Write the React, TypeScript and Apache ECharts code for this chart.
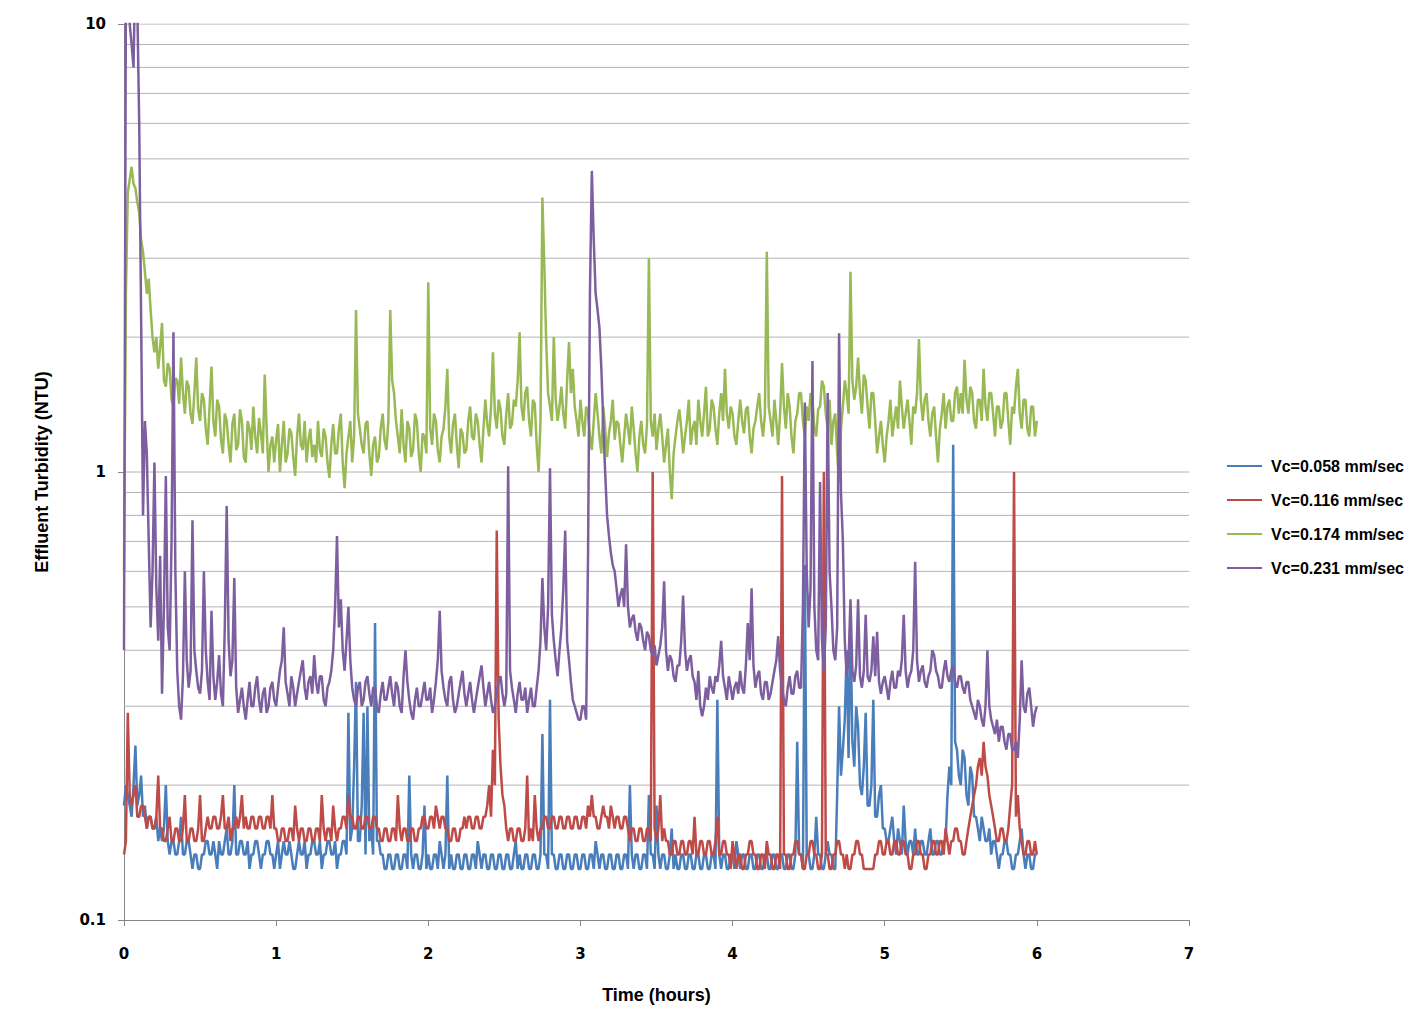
import * as echarts from 'echarts';
import { useEffect, useRef } from 'react';

// logger sampled every 45 s (0.0125 h), 0 .. 6 h
const TIME_STEP_H = 0.0125;

const SERIES_NAMES = [
  'Vc=0.058 mm/sec',
  'Vc=0.116 mm/sec',
  'Vc=0.174 mm/sec',
  'Vc=0.231 mm/sec',
];
const SERIES_COLORS = ['#4a7ebb', '#be4b48', '#98b954', '#7d5fa0'];

const X_TICKS = [0, 1, 2, 3, 4, 5, 6, 7];
// horizontal grid levels (log decades with their 2..9 sub-lines)
const GRID_LEVELS = [
  0.2, 0.3, 0.4, 0.5, 0.6, 0.7, 0.8, 0.9, 1,
  2, 3, 4, 5, 6, 7, 8, 9, 10,
];

// one row = 0.25 h
const VC_058 = [
  0.18, 0.2, 0.19, 0.18, 0.17, 0.2, 0.245, 0.18, 0.19, 0.21, 0.17, 0.18, 0.16, 0.17, 0.17, 0.16, 0.16, 0.17, 0.15, 0.16,
  0.15, 0.16, 0.2, 0.15, 0.14, 0.15, 0.15, 0.14, 0.14, 0.15, 0.17, 0.14, 0.14, 0.15, 0.15, 0.14, 0.13, 0.14, 0.14, 0.13,
  0.13, 0.14, 0.14, 0.15, 0.15, 0.14, 0.14, 0.15, 0.14, 0.13, 0.15, 0.14, 0.14, 0.15, 0.16, 0.14, 0.14, 0.15, 0.2, 0.14,
  0.14, 0.15, 0.15, 0.14, 0.14, 0.15, 0.13, 0.14, 0.14, 0.15, 0.15, 0.14, 0.13, 0.14, 0.14, 0.15, 0.15, 0.14, 0.14, 0.13,
  0.14, 0.15, 0.13, 0.14, 0.15, 0.14, 0.14, 0.15, 0.14, 0.13, 0.13, 0.14, 0.15, 0.14, 0.14, 0.15, 0.13, 0.14, 0.14, 0.15,
  0.15, 0.14, 0.14, 0.15, 0.13, 0.14, 0.14, 0.15, 0.15, 0.14, 0.14, 0.15, 0.13, 0.14, 0.14, 0.15, 0.15, 0.14, 0.29, 0.15,
  0.16, 0.22, 0.34, 0.15, 0.15, 0.18, 0.29, 0.14, 0.3, 0.15, 0.16, 0.14, 0.46, 0.15, 0.15, 0.14, 0.14, 0.13, 0.13, 0.14,
  0.14, 0.13, 0.13, 0.14, 0.14, 0.13, 0.13, 0.14, 0.14, 0.13, 0.21, 0.14, 0.13, 0.14, 0.14, 0.13, 0.13, 0.14, 0.18, 0.13,
  0.14, 0.13, 0.13, 0.14, 0.14, 0.13, 0.15, 0.14, 0.13, 0.14, 0.21, 0.13, 0.14, 0.13, 0.13, 0.14, 0.14, 0.13, 0.13, 0.14,
  0.14, 0.13, 0.13, 0.14, 0.14, 0.13, 0.15, 0.14, 0.13, 0.14, 0.14, 0.13, 0.13, 0.14, 0.14, 0.13, 0.13, 0.14, 0.14, 0.13,
  0.13, 0.14, 0.14, 0.13, 0.13, 0.14, 0.15, 0.13, 0.14, 0.13, 0.13, 0.14, 0.14, 0.13, 0.13, 0.14, 0.14, 0.13, 0.13, 0.14,
  0.26, 0.14, 0.14, 0.13, 0.31, 0.14, 0.14, 0.13, 0.13, 0.14, 0.14, 0.13, 0.13, 0.14, 0.14, 0.13, 0.13, 0.14, 0.14, 0.13,
  0.13, 0.14, 0.14, 0.13, 0.13, 0.14, 0.14, 0.13, 0.15, 0.14, 0.13, 0.14, 0.14, 0.13, 0.13, 0.14, 0.14, 0.13, 0.13, 0.14,
  0.14, 0.13, 0.13, 0.14, 0.14, 0.13, 0.2, 0.14, 0.13, 0.14, 0.14, 0.13, 0.13, 0.14, 0.14, 0.13, 0.19, 0.14, 0.14, 0.13,
  0.18, 0.14, 0.13, 0.14, 0.14, 0.13, 0.13, 0.14, 0.16, 0.13, 0.14, 0.13, 0.13, 0.14, 0.14, 0.13, 0.13, 0.14, 0.14, 0.13,
  0.13, 0.14, 0.14, 0.13, 0.13, 0.14, 0.14, 0.13, 0.13, 0.14, 0.14, 0.13, 0.31, 0.14, 0.13, 0.14, 0.14, 0.13, 0.13, 0.14,
  0.14, 0.13, 0.15, 0.14, 0.13, 0.14, 0.14, 0.13, 0.13, 0.14, 0.14, 0.13, 0.13, 0.14, 0.14, 0.13, 0.13, 0.14, 0.14, 0.13,
  0.13, 0.14, 0.14, 0.13, 0.13, 0.14, 0.14, 0.13, 0.13, 0.14, 0.14, 0.13, 0.13, 0.14, 0.25, 0.14, 0.14, 0.13, 0.62, 0.14,
  0.14, 0.13, 0.13, 0.14, 0.17, 0.14, 0.14, 0.13, 0.13, 0.14, 0.15, 0.14, 0.14, 0.13, 0.13, 0.19, 0.3, 0.21, 0.24, 0.28,
  0.4, 0.23, 0.46, 0.25, 0.22, 0.3, 0.27, 0.2, 0.19, 0.22, 0.29, 0.18, 0.18, 0.2, 0.31, 0.17, 0.17, 0.19, 0.2, 0.16,
  0.16, 0.15, 0.15, 0.16, 0.17, 0.15, 0.14, 0.16, 0.15, 0.14, 0.18, 0.15, 0.14, 0.15, 0.15, 0.14, 0.16, 0.14, 0.14, 0.15,
  0.15, 0.14, 0.14, 0.15, 0.16, 0.14, 0.14, 0.15, 0.15, 0.14, 0.14, 0.15, 0.15, 0.19, 0.22, 0.2, 1.15, 0.25, 0.24, 0.21,
  0.2, 0.24, 0.23, 0.19, 0.18, 0.22, 0.21, 0.17, 0.17, 0.16, 0.15, 0.17, 0.16, 0.15, 0.15, 0.16, 0.14, 0.15, 0.15, 0.14,
  0.13, 0.14, 0.14, 0.15, 0.15, 0.14, 0.14, 0.13, 0.13, 0.14, 0.14, 0.15, 0.16, 0.14, 0.13, 0.14, 0.14, 0.13, 0.13, 0.14,
  0.14,
];

const VC_116 = [
  0.14, 0.15, 0.29, 0.19, 0.18, 0.19, 0.2, 0.17, 0.17, 0.18, 0.18, 0.17, 0.16, 0.17, 0.17, 0.16, 0.16, 0.17, 0.21, 0.16,
  0.16, 0.15, 0.15, 0.16, 0.17, 0.15, 0.15, 0.16, 0.16, 0.15, 0.15, 0.16, 0.19, 0.15, 0.15, 0.16, 0.16, 0.15, 0.15, 0.16,
  0.19, 0.15, 0.15, 0.16, 0.17, 0.16, 0.16, 0.17, 0.17, 0.16, 0.16, 0.17, 0.19, 0.16, 0.16, 0.17, 0.15, 0.16, 0.16, 0.17,
  0.16, 0.17, 0.19, 0.16, 0.17, 0.16, 0.16, 0.17, 0.17, 0.16, 0.16, 0.17, 0.17, 0.16, 0.16, 0.17, 0.17, 0.16, 0.19, 0.16,
  0.16, 0.15, 0.15, 0.16, 0.16, 0.15, 0.15, 0.16, 0.16, 0.15, 0.18, 0.16, 0.15, 0.16, 0.16, 0.15, 0.15, 0.16, 0.16, 0.15,
  0.15, 0.16, 0.16, 0.15, 0.19, 0.16, 0.15, 0.16, 0.16, 0.15, 0.18, 0.16, 0.15, 0.16, 0.16, 0.17, 0.17, 0.16, 0.19, 0.17,
  0.17, 0.16, 0.16, 0.17, 0.17, 0.16, 0.16, 0.17, 0.17, 0.16, 0.16, 0.17, 0.17, 0.16, 0.16, 0.15, 0.15, 0.16, 0.16, 0.15,
  0.15, 0.16, 0.16, 0.15, 0.19, 0.16, 0.15, 0.16, 0.16, 0.15, 0.15, 0.16, 0.16, 0.15, 0.15, 0.16, 0.16, 0.17, 0.17, 0.16,
  0.16, 0.17, 0.17, 0.16, 0.18, 0.17, 0.16, 0.17, 0.17, 0.16, 0.16, 0.15, 0.15, 0.16, 0.16, 0.15, 0.15, 0.16, 0.16, 0.17,
  0.16, 0.17, 0.17, 0.16, 0.16, 0.17, 0.17, 0.16, 0.16, 0.17, 0.17, 0.18, 0.2, 0.17, 0.24, 0.2, 0.74, 0.28, 0.22, 0.19,
  0.18, 0.16, 0.15, 0.16, 0.16, 0.15, 0.15, 0.16, 0.16, 0.15, 0.15, 0.16, 0.21, 0.15, 0.16, 0.15, 0.19, 0.16, 0.15, 0.16,
  0.16, 0.17, 0.17, 0.16, 0.16, 0.17, 0.17, 0.16, 0.16, 0.17, 0.17, 0.16, 0.16, 0.17, 0.17, 0.16, 0.16, 0.17, 0.17, 0.16,
  0.16, 0.17, 0.17, 0.16, 0.18, 0.17, 0.19, 0.17, 0.17, 0.16, 0.16, 0.17, 0.18, 0.17, 0.17, 0.16, 0.18, 0.17, 0.16, 0.17,
  0.17, 0.16, 0.16, 0.17, 0.17, 0.16, 0.15, 0.16, 0.16, 0.15, 0.15, 0.16, 0.16, 0.15, 0.15, 0.16, 0.16, 0.15, 1.0, 0.16,
  0.15, 0.16, 0.19, 0.15, 0.16, 0.15, 0.15, 0.14, 0.14, 0.15, 0.15, 0.14, 0.14, 0.15, 0.15, 0.14, 0.14, 0.15, 0.15, 0.14,
  0.17, 0.14, 0.14, 0.15, 0.15, 0.14, 0.14, 0.15, 0.15, 0.14, 0.14, 0.15, 0.17, 0.14, 0.14, 0.15, 0.15, 0.14, 0.14, 0.13,
  0.15, 0.14, 0.13, 0.14, 0.14, 0.13, 0.13, 0.14, 0.14, 0.15, 0.15, 0.14, 0.14, 0.13, 0.13, 0.14, 0.14, 0.13, 0.15, 0.14,
  0.14, 0.13, 0.13, 0.14, 0.14, 0.13, 0.98, 0.14, 0.14, 0.13, 0.13, 0.14, 0.14, 0.15, 0.15, 0.14, 0.14, 0.13, 0.13, 0.14,
  0.14, 0.15, 0.15, 0.14, 0.14, 0.13, 0.13, 0.14, 1.0, 0.14, 0.14, 0.13, 0.13, 0.14, 0.14, 0.15, 0.15, 0.14, 0.14, 0.13,
  0.14, 0.13, 0.13, 0.14, 0.14, 0.15, 0.15, 0.14, 0.14, 0.13, 0.13, 0.13, 0.13, 0.13, 0.13, 0.14, 0.14, 0.15, 0.15, 0.14,
  0.14, 0.15, 0.15, 0.14, 0.14, 0.15, 0.15, 0.14, 0.14, 0.15, 0.15, 0.14, 0.14, 0.13, 0.13, 0.14, 0.14, 0.15, 0.15, 0.14,
  0.14, 0.13, 0.13, 0.14, 0.14, 0.15, 0.15, 0.14, 0.14, 0.15, 0.15, 0.14, 0.16, 0.15, 0.14, 0.15, 0.15, 0.16, 0.16, 0.15,
  0.15, 0.14, 0.14, 0.15, 0.16, 0.17, 0.18, 0.19, 0.2, 0.22, 0.23, 0.21, 0.25, 0.22, 0.21, 0.19, 0.18, 0.17, 0.16, 0.15,
  0.15, 0.16, 0.16, 0.15, 0.15, 0.16, 0.18, 0.2, 1.0, 0.17, 0.19, 0.16, 0.15, 0.14, 0.14, 0.15, 0.15, 0.14, 0.14, 0.15,
  0.14,
];

const VC_174 = [
  0.6, 2.5, 4.2, 4.5, 4.8, 4.4, 4.3, 4.0, 3.8, 3.3, 3.1, 2.8, 2.5, 2.7, 2.3, 2.0, 1.85, 2.0, 1.7, 1.9,
  2.15, 1.6, 1.55, 1.75, 1.7, 1.45, 1.4, 1.62, 1.6, 1.42, 1.8, 1.5, 1.35, 1.6, 1.55, 1.35, 1.28, 1.5, 1.8, 1.38,
  1.3, 1.5, 1.45, 1.25, 1.15, 1.4, 1.72, 1.3, 1.2, 1.45, 1.4, 1.18, 1.1, 1.35, 1.3, 1.15, 1.05, 1.28, 1.35, 1.12,
  1.15, 1.38, 1.3, 1.08, 1.05, 1.3, 1.25, 1.12, 1.4, 1.2, 1.1, 1.32, 1.22, 1.1, 1.65, 1.25, 1.0, 1.15, 1.2, 1.05,
  1.18, 1.28, 1.0, 1.15, 1.3, 1.05, 1.1, 1.25, 1.22, 1.08, 0.98, 1.2, 1.35, 1.15, 1.12, 1.3, 1.05, 1.18, 1.25, 1.08,
  1.15, 1.05, 1.3, 1.12, 1.08, 1.25, 1.2, 1.05, 0.97, 1.15, 1.28, 1.1, 1.1, 1.25, 1.35, 1.05, 0.92, 1.1, 1.2, 1.3,
  1.05, 1.2, 2.3, 1.35, 1.25, 1.15, 1.1, 1.28, 1.3, 1.1, 0.98, 1.15, 1.2, 1.05, 1.08, 1.25, 1.35, 1.18, 1.12, 1.3,
  2.3, 1.6, 1.5, 1.3, 1.2, 1.1, 1.38, 1.15, 1.05, 1.3, 1.25, 1.08, 1.12, 1.35, 1.3, 1.1, 1.0, 1.22, 1.2, 1.1,
  2.65, 1.25, 1.15, 1.35, 1.3, 1.12, 1.05, 1.2, 1.25, 1.4, 1.7, 1.2, 1.1, 1.28, 1.35, 1.15, 1.02, 1.25, 1.22, 1.1,
  1.12, 1.3, 1.4, 1.2, 1.18, 1.35, 1.3, 1.15, 1.05, 1.25, 1.45, 1.28, 1.2, 1.4, 1.85, 1.35, 1.25, 1.45, 1.38, 1.2,
  1.15, 1.35, 1.5, 1.25, 1.28, 1.45, 1.4, 1.6, 2.05, 1.4, 1.3, 1.5, 1.55, 1.3, 1.2, 1.45, 1.42, 1.15, 1.0, 1.3,
  4.1, 2.9, 1.95, 1.5, 1.4, 1.3, 2.0, 1.45, 1.3, 1.4, 1.55, 1.35, 1.25, 1.6, 1.95, 1.5, 1.7, 1.4, 1.3, 1.2,
  1.45, 1.3, 1.2, 1.4, 1.35, 1.2, 1.12, 1.3, 1.5, 1.35, 1.2, 1.1, 1.4, 1.25, 1.08, 1.22, 1.3, 1.45, 1.18, 1.3,
  1.28, 1.15, 1.05, 1.2, 1.35, 1.25, 1.15, 1.4, 1.25, 1.1, 1.0, 1.2, 1.3, 1.15, 1.1, 1.28, 3.0, 1.3, 1.2, 1.35,
  1.12, 1.25, 1.35, 1.2, 1.05, 1.15, 1.25, 1.0, 0.87, 1.1, 1.2, 1.3, 1.38, 1.25, 1.1, 1.2, 1.3, 1.45, 1.15, 1.25,
  1.3, 1.15, 1.45, 1.3, 1.2, 1.35, 1.55, 1.2, 1.25, 1.45, 1.4, 1.25, 1.15, 1.35, 1.5, 1.3, 1.7, 1.35, 1.25, 1.4,
  1.35, 1.2, 1.15, 1.3, 1.45, 1.3, 1.22, 1.38, 1.4, 1.2, 1.1, 1.25, 1.3, 1.4, 1.5, 1.3, 1.2, 1.35, 3.1, 1.4,
  1.3, 1.2, 1.45, 1.3, 1.15, 1.35, 1.75, 1.4, 1.25, 1.5, 1.4, 1.2, 1.1, 1.3, 1.35, 1.5, 1.5, 1.3, 1.2, 1.4,
  1.3, 1.5, 1.45, 1.25, 1.2, 1.38, 1.4, 1.6, 1.55, 1.35, 1.25, 1.45, 1.15, 1.3, 1.35, 1.1, 0.95, 1.25, 1.4, 1.6,
  1.5, 1.35, 2.8, 1.6, 1.45, 1.55, 1.8, 1.5, 1.35, 1.65, 1.6, 1.4, 1.25, 1.5, 1.5, 1.3, 1.1, 1.2, 1.3, 1.15,
  1.05, 1.2, 1.3, 1.45, 1.2, 1.3, 1.4, 1.25, 1.6, 1.4, 1.25, 1.35, 1.45, 1.3, 1.15, 1.4, 1.35, 1.5, 1.98, 1.45,
  1.3, 1.45, 1.5, 1.3, 1.2, 1.35, 1.4, 1.2, 1.05, 1.25, 1.35, 1.5, 1.25, 1.4, 1.45, 1.3, 1.3, 1.5, 1.55, 1.35,
  1.5, 1.35, 1.78, 1.45, 1.35, 1.55, 1.5, 1.3, 1.25, 1.45, 1.45, 1.3, 1.7, 1.4, 1.3, 1.5, 1.5, 1.35, 1.2, 1.4,
  1.4, 1.25, 1.3, 1.5, 1.5, 1.3, 1.15, 1.4, 1.35, 1.55, 1.7, 1.35, 1.25, 1.45, 1.45, 1.25, 1.2, 1.4, 1.4, 1.2,
  1.3,
];

const VC_231 = [
  0.4, 12, 14, 10, 9, 8, 14, 11, 6, 2.2, 0.8, 1.3, 1.1, 0.7, 0.45, 0.6, 1.05, 0.55, 0.42, 0.65,
  0.32, 0.5, 0.98, 0.45, 0.4, 0.7, 2.05, 0.6, 0.36, 0.3, 0.28, 0.35, 0.6, 0.38, 0.33, 0.36, 0.78, 0.4, 0.36, 0.33,
  0.32, 0.36, 0.6, 0.4, 0.34, 0.31, 0.49, 0.35, 0.31, 0.34, 0.39, 0.32, 0.3, 0.45, 0.84, 0.42, 0.35, 0.38, 0.58, 0.33,
  0.29, 0.31, 0.33, 0.3, 0.28, 0.31, 0.34, 0.3, 0.3, 0.33, 0.35, 0.31, 0.29, 0.32, 0.33, 0.29, 0.3, 0.33, 0.34, 0.31,
  0.3, 0.33, 0.36, 0.38, 0.45, 0.34, 0.32, 0.3, 0.35, 0.33, 0.3, 0.32, 0.34, 0.36, 0.38, 0.33, 0.31, 0.34, 0.35, 0.32,
  0.39, 0.34, 0.32, 0.35, 0.35, 0.31, 0.3, 0.33, 0.34, 0.36, 0.4, 0.5, 0.72, 0.45, 0.52, 0.4, 0.36, 0.42, 0.5, 0.38,
  0.33, 0.31, 0.3, 0.33, 0.34, 0.3, 0.31, 0.34, 0.35, 0.32, 0.3, 0.33, 0.33, 0.3, 0.29, 0.32, 0.34, 0.31, 0.31, 0.33,
  0.35, 0.32, 0.3, 0.34, 0.33, 0.3, 0.29, 0.35, 0.4, 0.34, 0.31, 0.29, 0.28, 0.31, 0.33, 0.3, 0.3, 0.32, 0.34, 0.31,
  0.31, 0.33, 0.29, 0.31, 0.34, 0.38, 0.49, 0.36, 0.33, 0.31, 0.3, 0.34, 0.35, 0.31, 0.29, 0.3, 0.32, 0.34, 0.36, 0.32,
  0.3, 0.32, 0.34, 0.31, 0.29, 0.31, 0.33, 0.35, 0.37, 0.33, 0.3, 0.32, 0.34, 0.31, 0.29, 0.3, 0.32, 0.34, 0.35, 0.32,
  0.3, 0.32, 1.03, 0.36, 0.33, 0.31, 0.29, 0.32, 0.34, 0.31, 0.31, 0.33, 0.29, 0.31, 0.33, 0.3, 0.3, 0.33, 0.36, 0.42,
  0.58, 0.45, 0.4, 0.5, 1.02, 0.48, 0.42, 0.38, 0.35, 0.4, 0.45, 0.55, 0.74, 0.42, 0.38, 0.34, 0.31, 0.3, 0.29, 0.28,
  0.28, 0.3, 0.3, 0.28, 0.65, 2.5, 4.7, 3.3, 2.5, 2.3, 2.1, 1.7, 1.3, 1.0, 0.8, 0.72, 0.66, 0.62, 0.6, 0.55,
  0.5, 0.53, 0.55, 0.5, 0.69, 0.5, 0.45, 0.47, 0.48, 0.44, 0.42, 0.46, 0.45, 0.42, 0.4, 0.44, 0.43, 0.4, 0.39, 0.41,
  0.37, 0.39, 0.41, 0.45, 0.57, 0.4, 0.36, 0.39, 0.38, 0.35, 0.34, 0.37, 0.37, 0.42, 0.53, 0.4, 0.36, 0.38, 0.39, 0.35,
  0.34, 0.31, 0.36, 0.3, 0.285, 0.3, 0.33, 0.31, 0.35, 0.33, 0.32, 0.35, 0.34, 0.37, 0.42, 0.35, 0.33, 0.31, 0.35, 0.33,
  0.31, 0.33, 0.34, 0.32, 0.36, 0.33, 0.32, 0.37, 0.46, 0.38, 0.55, 0.37, 0.33, 0.35, 0.36, 0.32, 0.31, 0.34, 0.34, 0.31,
  0.32, 0.34, 0.36, 0.38, 0.43, 0.36, 0.33, 0.31, 0.3, 0.33, 0.35, 0.32, 0.32, 0.35, 0.36, 0.33, 0.33, 0.5, 1.43, 0.6,
  0.45, 0.55, 1.77, 0.5, 0.4, 0.38, 0.95, 0.42, 0.36, 0.45, 1.5, 0.6, 0.5, 0.4, 0.38, 0.45, 2.04, 0.9, 0.7, 0.42,
  0.35, 0.38, 0.52, 0.36, 0.34, 0.37, 0.52, 0.35, 0.33, 0.36, 0.48, 0.35, 0.34, 0.36, 0.43, 0.35, 0.44, 0.34, 0.32, 0.34,
  0.35, 0.33, 0.31, 0.34, 0.36, 0.33, 0.33, 0.36, 0.35, 0.38, 0.48, 0.36, 0.33, 0.35, 0.36, 0.4, 0.63, 0.38, 0.34, 0.36,
  0.37, 0.34, 0.33, 0.35, 0.36, 0.4, 0.39, 0.36, 0.35, 0.33, 0.33, 0.36, 0.38, 0.35, 0.34, 0.36, 0.37, 0.34, 0.33, 0.35,
  0.35, 0.33, 0.32, 0.34, 0.34, 0.31, 0.3, 0.29, 0.28, 0.31, 0.3, 0.28, 0.27, 0.3, 0.4, 0.3, 0.28, 0.27, 0.26, 0.28,
  0.25, 0.27, 0.27, 0.25, 0.24, 0.26, 0.26, 0.24, 0.24, 0.25, 0.23, 0.28, 0.38, 0.3, 0.29, 0.32, 0.33, 0.3, 0.27, 0.29,
  0.3,
];

const SERIES_VALUES = [VC_058, VC_116, VC_174, VC_231];

const LABEL_FONT = '"DejaVu Sans", Verdana, sans-serif';
const TEXT_FONT = '"Liberation Sans", Arial, sans-serif';
const AXIS_GRAY = '#868686';
const GRID_GRAY = '#b4b4b4';

const App: React.FC = () => {
  const chartRef = useRef<HTMLDivElement>(null);

  useEffect(() => {
    if (!chartRef.current) return;
    const chart = echarts.init(chartRef.current, undefined, { renderer: 'svg' });

    // grid lines as plain series so they sit under the data
    const gridSeries = GRID_LEVELS.map((v) => ({
      type: 'line' as const,
      name: 'grid' + v,
      data: [
        [X_TICKS[0], v],
        [X_TICKS[X_TICKS.length - 1], v],
      ],
      symbol: 'none',
      silent: true,
      lineStyle: { color: GRID_GRAY, width: 1 },
      z: 1,
    }));

    const dataSeries = SERIES_NAMES.map((name, k) => ({
      type: 'line' as const,
      name,
      data: SERIES_VALUES[k].map((v, i) => [i * TIME_STEP_H, v]),
      symbol: 'none',
      color: SERIES_COLORS[k],
      lineStyle: { color: SERIES_COLORS[k], width: 2.5 },
      clip: true,
      z: 2 + k,
    }));

    chart.setOption({
      animation: false,
      grid: { left: 116, top: 16, width: 1065, height: 896 },
      legend: {
        data: SERIES_NAMES,
        orient: 'vertical',
        left: 1214,
        top: 445,
        icon: 'rect',
        itemWidth: 35,
        itemHeight: 2,
        itemGap: 18,
        selectedMode: false,
        textStyle: {
          fontFamily: TEXT_FONT,
          fontWeight: 'bold',
          fontSize: 16,
          color: '#000',
          padding: [0, 0, 0, 4],
        },
      },
      xAxis: {
        type: 'value',
        min: 0,
        max: 7,
        interval: 1,
        name: 'Time (hours)',
        nameLocation: 'middle',
        nameGap: 66,
        nameTextStyle: {
          fontFamily: TEXT_FONT,
          fontWeight: 'bold',
          fontSize: 18,
          color: '#000',
        },
        axisLine: { lineStyle: { color: AXIS_GRAY, width: 1 } },
        axisTick: { show: true, length: 6, lineStyle: { color: AXIS_GRAY } },
        axisLabel: {
          margin: 26,
          fontFamily: LABEL_FONT,
          fontWeight: 'bold',
          fontSize: 15,
          color: '#000',
        },
        splitLine: { show: false },
      },
      yAxis: {
        type: 'log',
        logBase: 10,
        min: 0.1,
        max: 10,
        name: 'Effluent Turbidity (NTU)',
        nameLocation: 'middle',
        nameRotate: 90,
        nameGap: 73,
        nameTextStyle: {
          fontFamily: TEXT_FONT,
          fontWeight: 'bold',
          fontSize: 18,
          color: '#000',
        },
        axisLine: { show: true, lineStyle: { color: AXIS_GRAY, width: 1 } },
        axisTick: { show: true, length: 6, lineStyle: { color: AXIS_GRAY } },
        axisLabel: {
          margin: 18,
          fontFamily: LABEL_FONT,
          fontWeight: 'bold',
          fontSize: 15,
          color: '#000',
        },
        splitLine: { show: false },
      },
      series: [...gridSeries, ...dataSeries],
    });

    return () => {
      chart.dispose();
    };
  }, []);

  return <div ref={chartRef} style={{ width: '1406px', height: '1017px' }} />;
};

export default App;
